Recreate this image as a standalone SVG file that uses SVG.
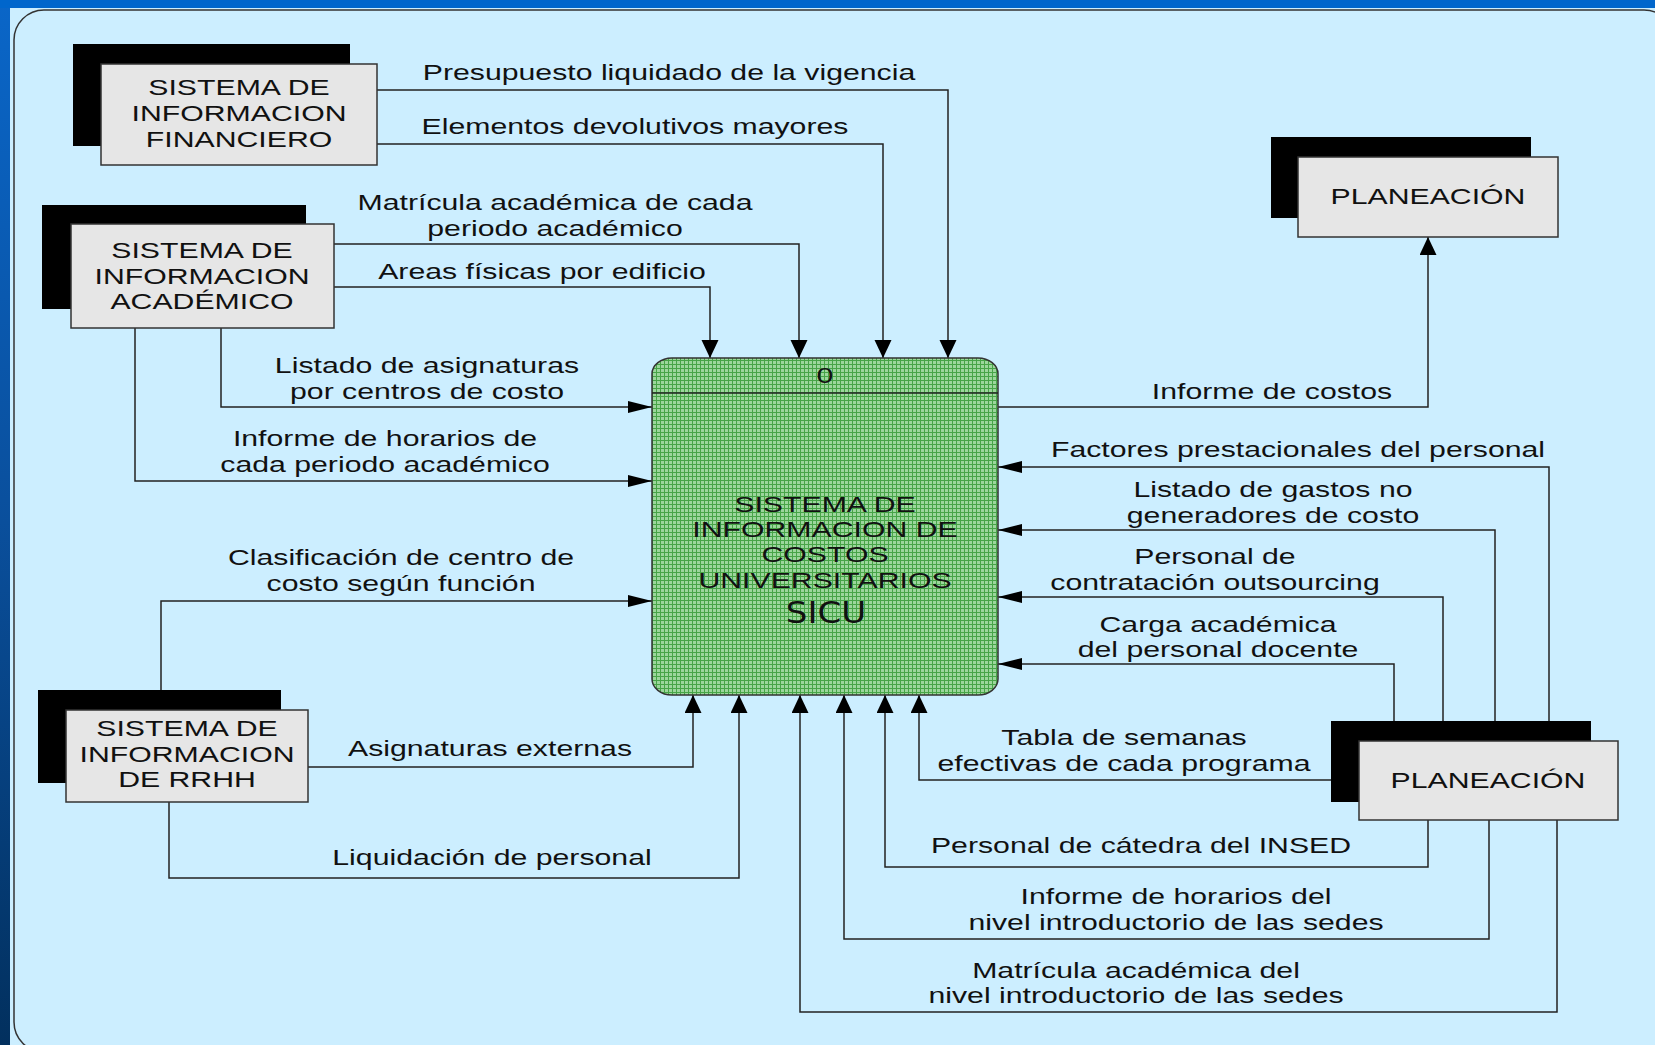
<svg xmlns="http://www.w3.org/2000/svg" width="1655" height="1045" viewBox="0 0 1655 1045">
<defs>
<linearGradient id="bg" x1="0" y1="0" x2="0" y2="1">
<stop offset="0" stop-color="#0a66c8"/>
<stop offset="0.5" stop-color="#0a4f9c"/>
<stop offset="1" stop-color="#02305e"/>
</linearGradient>
<pattern id="grid" width="4" height="4" patternUnits="userSpaceOnUse">
<rect width="4" height="4" fill="#9cd69c"/>
<path d="M0,0.5 H4 M0.5,0 V4" stroke="#47a447" stroke-width="1"/>
</pattern>
<marker id="av" markerUnits="userSpaceOnUse" markerWidth="20" markerHeight="20" refX="18" refY="8.5" orient="auto">
<path d="M0,0 L18,8.5 L0,17 z" fill="#000"/>
</marker>
<marker id="ah" markerUnits="userSpaceOnUse" markerWidth="26" markerHeight="14" refX="24" refY="6" orient="auto">
<path d="M0,0 L24,6 L0,12 z" fill="#000"/>
</marker>
</defs>
<style>
.sh { fill: #000; }
.bx { fill: #e6e6e6; stroke: #333; stroke-width: 1.5; }
.t { font-family: "Liberation Sans", Arial, sans-serif; font-size: 22px; text-anchor: middle; fill: #111; }
.c { fill: none; stroke: #222; stroke-width: 1.5; }
.v { marker-end: url(#av); }
.h { marker-end: url(#ah); }
</style>
<rect x="0" y="0" width="1655" height="1045" fill="url(#bg)"/>
<rect x="0" y="0" width="1655" height="8" fill="#0066cc"/>
<rect x="10" y="8" width="1645" height="1037" fill="#cceeff"/>
<rect x="14" y="10" width="1660" height="1042" rx="30" ry="30" fill="none" stroke="#333" stroke-width="1.5"/>

<g id="connectors">
<path class="c v" d="M377,90 H948 V358"/>
<path class="c v" d="M377,144 H883 V358"/>
<path class="c v" d="M334,244 H799 V358"/>
<path class="c v" d="M334,287 H710 V358"/>
<path class="c h" d="M221,328 V407 H652"/>
<path class="c h" d="M135,328 V481 H652"/>
<path class="c h" d="M161,690 V601 H652"/>
<path class="c v" d="M308,767 H693 V695"/>
<path class="c v" d="M169,802 V878 H739 V695"/>
<path class="c v" d="M998,407 H1428 V237"/>
<path class="c h" d="M1549,721 V467 H998"/>
<path class="c h" d="M1495,721 V530 H998"/>
<path class="c h" d="M1443,721 V597 H998"/>
<path class="c h" d="M1394,721 V664 H998"/>
<path class="c v" d="M1331,780 H919 V695"/>
<path class="c v" d="M1428,820 V867 H885 V695"/>
<path class="c v" d="M1489,820 V939 H844 V695"/>
<path class="c v" d="M1557,820 V1012 H800 V695"/>
</g>

<g id="labels">
<text class="t" transform="translate(669,80) scale(1.375,1)">Presupuesto liquidado de la vigencia</text>
<text class="t" transform="translate(635,134) scale(1.375,1)">Elementos devolutivos mayores</text>
<text class="t" transform="translate(555,210) scale(1.375,1)"><tspan x="0">Matrícula académica de cada</tspan><tspan x="0" dy="26">periodo académico</tspan></text>
<text class="t" transform="translate(542,279) scale(1.375,1)">Areas físicas por edificio</text>
<text class="t" transform="translate(427,373) scale(1.375,1)"><tspan x="0">Listado de asignaturas</tspan><tspan x="0" dy="26">por centros de costo</tspan></text>
<text class="t" transform="translate(385,446) scale(1.375,1)"><tspan x="0">Informe de horarios de</tspan><tspan x="0" dy="26">cada periodo académico</tspan></text>
<text class="t" transform="translate(401,565) scale(1.375,1)"><tspan x="0">Clasificación de centro de</tspan><tspan x="0" dy="26">costo según función</tspan></text>
<text class="t" transform="translate(490,756) scale(1.375,1)">Asignaturas externas</text>
<text class="t" transform="translate(492,865) scale(1.375,1)">Liquidación de personal</text>
<text class="t" transform="translate(1272,399) scale(1.375,1)">Informe de costos</text>
<text class="t" transform="translate(1298,457) scale(1.375,1)">Factores prestacionales del personal</text>
<text class="t" transform="translate(1273,497) scale(1.375,1)"><tspan x="0">Listado de gastos no</tspan><tspan x="0" dy="26">generadores de costo</tspan></text>
<text class="t" transform="translate(1215,564) scale(1.375,1)"><tspan x="0">Personal de</tspan><tspan x="0" dy="26">contratación outsourcing</tspan></text>
<text class="t" transform="translate(1218,632) scale(1.375,1)"><tspan x="0">Carga académica</tspan><tspan x="0" dy="25">del personal docente</tspan></text>
<text class="t" transform="translate(1124,745) scale(1.375,1)"><tspan x="0">Tabla de semanas</tspan><tspan x="0" dy="26">efectivas de cada programa</tspan></text>
<text class="t" transform="translate(1141,853) scale(1.375,1)">Personal de cátedra del INSED</text>
<text class="t" transform="translate(1176,904) scale(1.375,1)"><tspan x="0">Informe de horarios del</tspan><tspan x="0" dy="26">nivel introductorio de las sedes</tspan></text>
<text class="t" transform="translate(1136,978) scale(1.375,1)"><tspan x="0">Matrícula académica del</tspan><tspan x="0" dy="25">nivel introductorio de las sedes</tspan></text>
</g>

<g id="n-financiero">
<rect class="sh" x="73" y="44" width="277" height="102"/>
<rect class="bx" x="101" y="64" width="276" height="101"/>
<text class="t" transform="translate(239,95) scale(1.375,1)"><tspan x="0">SISTEMA DE</tspan><tspan x="0" dy="26">INFORMACION</tspan><tspan x="0" dy="26">FINANCIERO</tspan></text>
</g>

<g id="n-academico">
<rect class="sh" x="42" y="205" width="264" height="104"/>
<rect class="bx" x="71" y="224" width="263" height="104"/>
<text class="t" transform="translate(202,258) scale(1.375,1)"><tspan x="0">SISTEMA DE</tspan><tspan x="0" dy="26">INFORMACION</tspan><tspan x="0" dy="25">ACADÉMICO</tspan></text>
</g>

<g id="n-rrhh">
<rect class="sh" x="38" y="690" width="243" height="93"/>
<rect class="bx" x="66" y="710" width="242" height="92"/>
<text class="t" transform="translate(187,736) scale(1.375,1)"><tspan x="0">SISTEMA DE</tspan><tspan x="0" dy="26">INFORMACION</tspan><tspan x="0" dy="25">DE RRHH</tspan></text>
</g>

<g id="n-planeacion-1">
<rect class="sh" x="1271" y="137" width="260" height="81"/>
<rect class="bx" x="1298" y="157" width="260" height="80"/>
<text class="t" transform="translate(1428,204) scale(1.375,1)">PLANEACIÓN</text>
</g>

<g id="n-planeacion-2">
<rect class="sh" x="1331" y="721" width="260" height="81"/>
<rect class="bx" x="1359" y="741" width="259" height="79"/>
<text class="t" transform="translate(1488,788) scale(1.375,1)">PLANEACIÓN</text>
</g>

<g id="p-sicu">
<rect x="652" y="358" width="346" height="337" rx="20" ry="16" fill="url(#grid)" stroke="#333" stroke-width="1.5"/>
<line x1="652" y1="393" x2="998" y2="393" stroke="#222" stroke-width="1.5"/>
<text class="t" transform="translate(825,383) scale(1.375,1)">0</text>
<text class="t" transform="translate(825,512) scale(1.375,1)"><tspan x="0">SISTEMA DE</tspan><tspan x="0" dy="25">INFORMACION DE</tspan><tspan x="0" dy="25">COSTOS</tspan><tspan x="0" dy="26">UNIVERSITARIOS</tspan></text>
<text transform="translate(826,623) scale(1.1,1)" style="font-family: 'DejaVu Sans', Verdana, sans-serif; font-size: 31px; text-anchor: middle; fill: #111;">SICU</text>
</g>
</svg>
